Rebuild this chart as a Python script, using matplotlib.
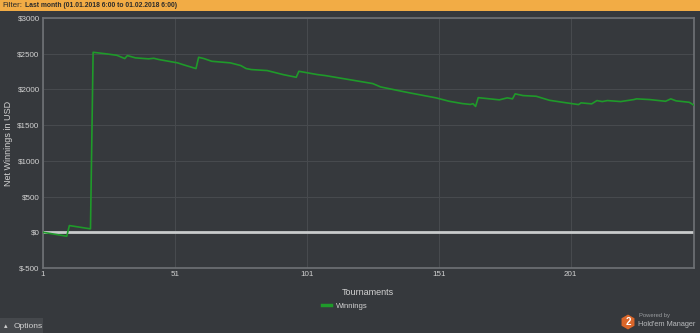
import matplotlib.pyplot as plt
from matplotlib.patches import Rectangle, RegularPolygon
from matplotlib.lines import Line2D

plt.rcParams['font.family'] = ['Liberation Sans', 'DejaVu Sans']

# Cumulative winnings per tournament (USD)
tournaments = [1, 10, 11, 19, 20, 25, 29, 32, 33, 36, 41, 43, 45, 52, 54, 59, 60,
               62, 65, 72, 76, 78, 80, 86, 92, 97, 98, 105, 108, 117, 126, 129,
               137, 140, 150, 155, 160, 163, 164, 165, 166, 174, 177, 179, 180,
               183, 188, 193, 198, 204, 205, 209, 211, 213, 215, 220, 225, 226,
               231, 237, 239, 241, 246, 248]
winnings = [0, -55, 94, 48, 2520, 2498, 2478, 2432, 2474, 2442, 2428, 2436, 2418,
            2372, 2348, 2292, 2450, 2432, 2394, 2372, 2334, 2292, 2278, 2264, 2208,
            2170, 2254, 2208, 2194, 2138, 2082, 2035, 1974, 1952, 1882, 1834, 1802,
            1790, 1800, 1762, 1885, 1854, 1882, 1868, 1938, 1914, 1904, 1848, 1820,
            1788, 1812, 1798, 1844, 1830, 1844, 1830, 1858, 1868, 1858, 1834, 1868,
            1840, 1820, 1774]

x_ticks = [1, 51, 101, 151, 201]
y_ticks = [-500, 0, 500, 1000, 1500, 2000, 2500, 3000]
y_labels = ['$-500', '$0', '$500', '$1000', '$1500', '$2000', '$2500', '$3000']

bg = '#36393d'
grid_col = '#474a4e'
spine_col = '#6f7276'
text_col = '#d2d2d2'
green = '#1f9a2a'

W, H = 700, 333
fig = plt.figure(figsize=(7, 3.33), dpi=100, facecolor=bg)

# plot area in pixel terms
left, right, top, bottom = 43, 694, 18, 268
ax = fig.add_axes([left / W, 1 - bottom / H, (right - left) / W, (bottom - top) / H])
ax.set_facecolor(bg)

ax.axhline(0, color='#c9cbcc', lw=2, zorder=2)
ax.plot(tournaments, winnings, color=green, lw=1.2, zorder=3)

ax.set_xlim(1, 247.8)
ax.set_ylim(-500, 3000)
ax.set_xticks(x_ticks)
ax.set_yticks(y_ticks)
ax.set_yticklabels(y_labels)
ax.tick_params(length=0, colors=text_col, labelsize=5.8, pad=2.5)
ax.grid(True, color=grid_col, lw=0.8)
for s in ax.spines.values():
    s.set_color(spine_col)
    s.set_linewidth(1.2)

ax.set_xlabel('Tournaments', color=text_col, fontsize=6.5)
ax.xaxis.set_label_coords((368 - left) / (right - left), -(288 - bottom) / (bottom - top))
ax.set_ylabel('Net Winnings in USD', color=text_col, fontsize=6.5)
ax.yaxis.set_label_coords(-(left - 13) / (right - left), 0.5)

# filter bar on top
fig.patches.append(Rectangle((0, 1 - 11 / H), 1, 11 / H, transform=fig.transFigure,
                             facecolor='#f2ac45', edgecolor='none', zorder=0))
fig.text(2 / W, 1 - 5.5 / H, 'Filter:', fontsize=5.8, color='#2b2b2b', va='center')
fig.text(25 / W, 1 - 5.5 / H, 'Last month (01.01.2018 6:00 to 01.02.2018 6:00)',
         fontsize=4.9, color='#2b2b2b', va='center', fontweight='bold')

# legend
fig.legend([Line2D([0], [0], color=green, lw=2.5)], ['Winnings'],
           loc='center', bbox_to_anchor=(345 / W, 1 - 306 / H), frameon=False,
           fontsize=5.5, labelcolor=text_col, handlelength=1.2, handletextpad=0.7)

# options button
fig.patches.append(Rectangle((0, 0), 43 / W, 15 / H, transform=fig.transFigure,
                             facecolor='#45484c', edgecolor='none'))
fig.text(4 / W, 7 / H, '\u25b4', fontsize=5, color=text_col, va='center',
         family='DejaVu Sans')
fig.text(14 / W, 7 / H, 'Options', fontsize=6, color=text_col, va='center')

# branding
lax = fig.add_axes([620 / W, 0, 16 / W, 22 / H])
lax.set_xlim(-1, 1)
lax.set_ylim(-1.4, 1.4)
lax.set_aspect('equal')
lax.axis('off')
lax.add_patch(RegularPolygon((0, 0), 6, radius=0.95, facecolor='#d9662a', edgecolor='none'))
lax.text(0, -0.05, '2', color='white', fontsize=7, fontweight='bold', ha='center', va='center')
fig.text(639 / W, 1 - 315.5 / H, 'Powered by', fontsize=4.2, color='#9a9da0', va='center')
fig.text(638 / W, 1 - 325 / H, "Hold'em Manager", fontsize=5.3, color='#b9bbbd',
         va='center')

fig.savefig('out.png', dpi=100, facecolor=bg)
